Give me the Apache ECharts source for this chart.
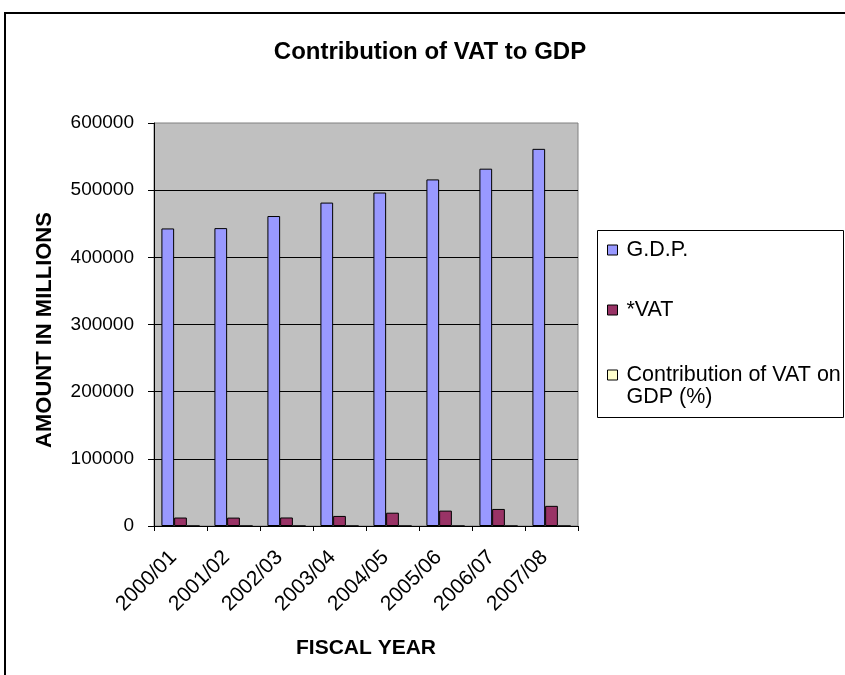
<!DOCTYPE html>
<html>
<head>
<meta charset="utf-8">
<script src="https://cdn.jsdelivr.net/npm/echarts@6/dist/echarts.min.js"></script>
<style>
  html, body { margin: 0; padding: 0; background: #fff; }
  #chart { width: 845px; height: 675px; }
</style>
</head>
<body>
<div id="chart"></div>
<script>
// Fiscal years on the category axis
const fiscalYears = ['2000/01', '2001/02', '2002/03', '2003/04', '2004/05', '2005/06', '2006/07', '2007/08'];
// Gross domestic product, Rs. in millions
const gdpValues = [443000, 443500, 461500, 481500, 496500, 516000, 532000, 561500];
// VAT revenue, Rs. in millions
const vatValues = [12600, 12500, 12700, 15000, 19800, 22900, 25400, 30000];
// Share of VAT in GDP, percent
const vatShareValues = [2.8, 2.8, 2.8, 3.1, 4.0, 4.4, 4.8, 5.3];
// Value axis ticks
const yTicks = [0, 100000, 200000, 300000, 400000, 500000, 600000];

const seriesNames = ['G.D.P.', '*VAT', 'Contribution of VAT on GDP (%)'];
const seriesColors = ['#9999FF', '#993366', '#FFFFCC'];
const seriesData = [gdpValues, vatValues, vatShareValues];

const FONT = '"Liberation Sans", Arial, sans-serif';

const chart = echarts.init(document.getElementById('chart'), null, { renderer: 'canvas' });

const legendText = { fontFamily: FONT, fontSize: 21.5, color: '#000', lineHeight: 22, padding: [0, 0, 0, 4] };
const legendBase = {
  orient: 'vertical',
  left: 607,
  padding: 0,
  itemWidth: 10,
  itemHeight: 10,
  icon: 'rect',
  selectedMode: false,
  itemStyle: { borderColor: '#000', borderWidth: 1 },
  textStyle: legendText
};

chart.setOption({
  backgroundColor: '#fff',
  animation: false,
  title: {
    text: 'Contribution of VAT to GDP',
    left: 425,
    textAlign: 'center',
    top: 35,
    textStyle: { fontFamily: FONT, fontSize: 24, fontWeight: 'bold', color: '#000' }
  },
  legend: [
    Object.assign({}, legendBase, { data: [seriesNames[0]], top: 239 }),
    Object.assign({}, legendBase, { data: [seriesNames[1]], top: 299 }),
    // wrapped entry: a leading blank line keeps the swatch level with the first text line
    Object.assign({}, legendBase, {
      data: [seriesNames[2]],
      top: 342,
      formatter: () => ' \nContribution of VAT on\nGDP (%)'
    })
  ],
  graphic: [
    {
      type: 'rect',
      z: -1,
      shape: { x: 5, y: 13, width: 900, height: 700 },
      style: { fill: 'none', stroke: '#000', lineWidth: 2 }
    },
    {
      type: 'rect',
      z: -1,
      shape: { x: 597.5, y: 230.5, width: 246, height: 187 },
      style: { fill: '#fff', stroke: '#000', lineWidth: 1 }
    }
  ],
  grid: {
    left: 154,
    right: 267,
    top: 123,
    bottom: 149,
    show: true,
    backgroundColor: '#C0C0C0',
    borderColor: '#808080',
    borderWidth: 1
  },
  xAxis: {
    type: 'category',
    data: fiscalYears,
    boundaryGap: true,
    name: 'FISCAL YEAR',
    nameLocation: 'middle',
    nameGap: 112,
    nameTextStyle: { fontFamily: FONT, fontSize: 21, fontWeight: 'bold', color: '#000' },
    axisLine: { show: true, lineStyle: { color: '#000', width: 1 } },
    axisTick: { show: true, alignWithLabel: false, length: 5, lineStyle: { color: '#000' } },
    axisLabel: {
      interval: 0,
      rotate: 45,
      margin: 21,
      padding: [0, 10, 0, 0],
      fontFamily: FONT,
      fontSize: 21,
      color: '#000'
    },
    splitLine: { show: false }
  },
  yAxis: {
    type: 'value',
    min: yTicks[0],
    max: yTicks[yTicks.length - 1],
    interval: yTicks[1] - yTicks[0],
    name: 'AMOUNT IN MILLIONS',
    nameLocation: 'middle',
    nameGap: 98,
    nameRotate: 90,
    nameTextStyle: { fontFamily: FONT, fontSize: 22, fontWeight: 'bold', color: '#000', padding: [0, 11, 0, 0] },
    axisLine: { show: true, lineStyle: { color: '#000', width: 1 } },
    axisTick: { show: true, inside: false, length: 6, lineStyle: { color: '#000' } },
    axisLabel: { margin: 20, fontFamily: FONT, fontSize: 19, color: '#000', formatter: v => String(v) },
    splitLine: { show: true, showMaxLine: false, lineStyle: { color: '#000', width: 1 } }
  },
  series: seriesNames.map((name, i) => ({
    name: name,
    type: 'bar',
    data: seriesData[i],
    barGap: '0%',
    barCategoryGap: '28%',
    itemStyle: { color: seriesColors[i], borderColor: '#000', borderWidth: 1 },
    emphasis: { disabled: true }
  }))
});
</script>
</body>
</html>
